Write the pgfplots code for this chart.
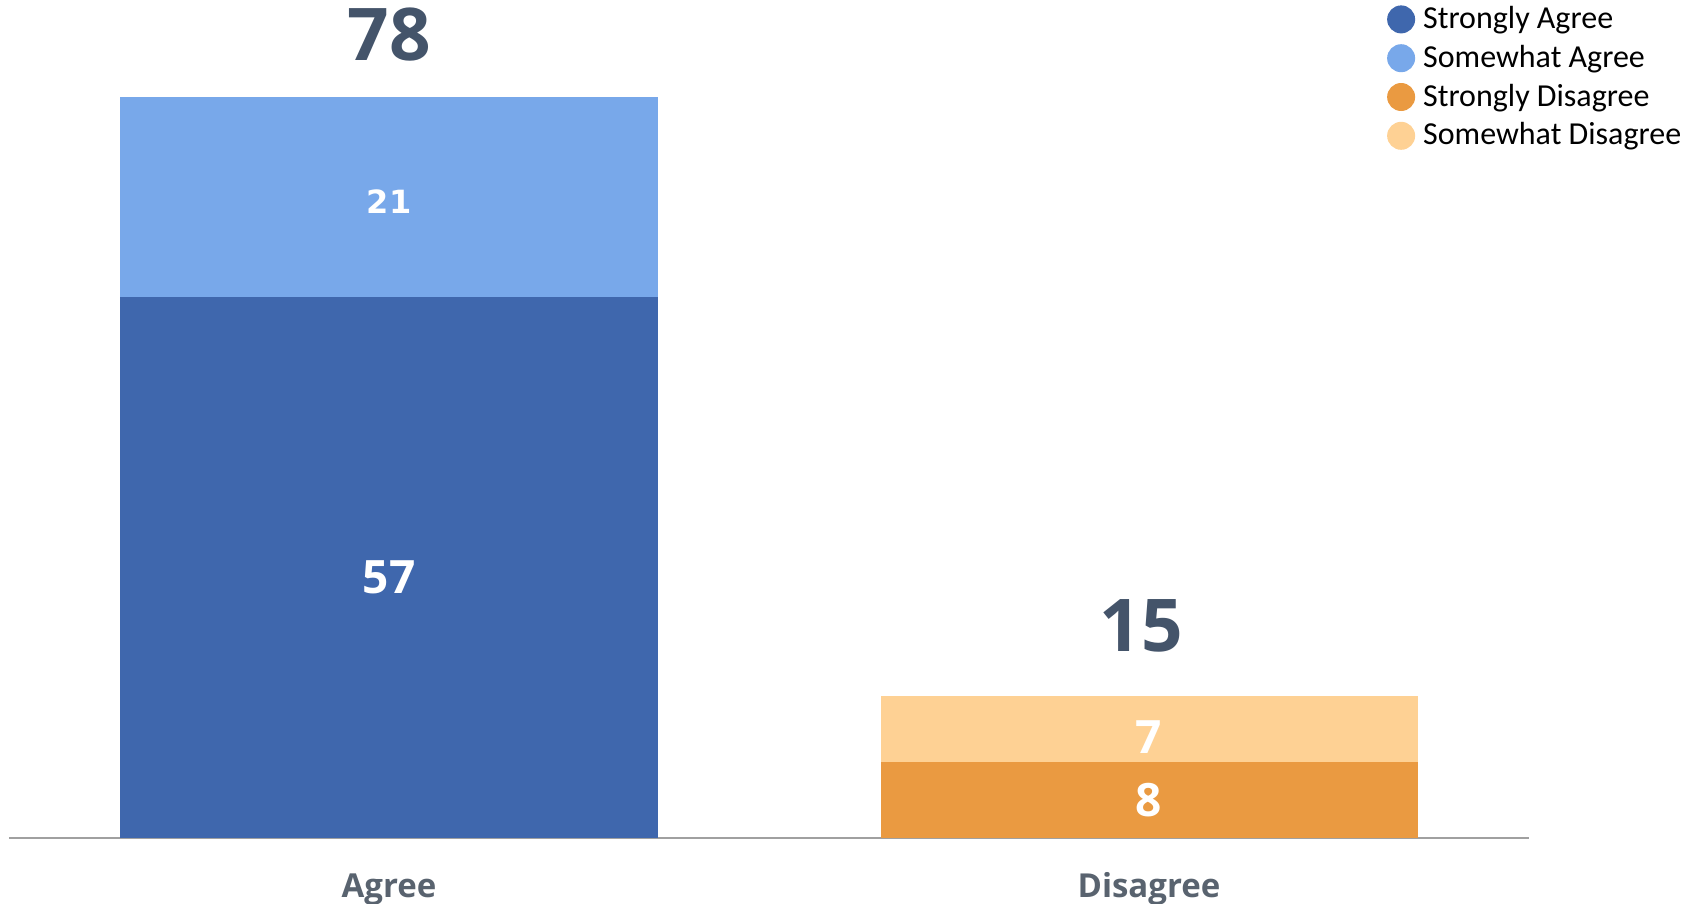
\documentclass[border=0pt]{standalone}
\usepackage{fontspec}
\setmainfont{Carlito}
\newfontfamily\numfont{Open Sans}
\newfontfamily\dvfont{DejaVu Sans}
\usepackage{pgfplots}
\pgfplotsset{compat=1.18}
\definecolor{sAgree}{HTML}{3F67AD}
\definecolor{wAgree}{HTML}{78A8EA}
\definecolor{sDis}{HTML}{EA9A41}
\definecolor{wDis}{HTML}{FED194}
\definecolor{totc}{HTML}{44546A}
\definecolor{catc}{HTML}{59636F}
\definecolor{axgray}{HTML}{A0A0A0}
\pgfplotsset{legcirc/.style={legend image code/.code={\fill[##1,draw=none] (7pt,0pt) circle (7pt); \path (18pt,0pt);}}}
\begin{document}
\begin{tikzpicture}
\path[use as bounding box] (-4.5pt,-33pt) rectangle (844.5pt,419pt);
\begin{axis}[
  at={(0,0)}, anchor=south west,
  scale only axis, width=760pt, height=419pt,
  xmin=-0.5, xmax=1.5, ymin=0, ymax=88.27,
  ybar stacked, bar width=268.5pt,
  axis x line=bottom, axis y line=none,
  x axis line style={draw=axgray, line width=1pt, -},
  xtick={0,1}, xticklabels={Agree,Disagree},
  major tick length=0pt, ytick=\empty,
  xticklabel style={anchor=base, yshift=-30pt, font=\numfont\bfseries\fontsize{16.5}{20}\selectfont, text=catc},
  clip=false,
  legend cell align=left,
  legend style={at={(0.9064,0.9952)}, anchor=north west, draw=none, fill=none,
    font=\fontsize{16}{19}\selectfont, inner sep=0pt, row sep=4.4pt,
    nodes={inner sep=0pt, text height=12pt, text depth=3pt}},
]
\addplot[fill=sAgree, draw=none, legcirc] coordinates {(0,57) (1,0)};
\addplot[fill=wAgree, draw=none, legcirc] coordinates {(0,21) (1,0)};
\addplot[fill=sDis, draw=none, legcirc] coordinates {(0,0) (1,8)};
\addplot[fill=wDis, draw=none, legcirc] coordinates {(0,0) (1,7)};
\legend{Strongly Agree, Somewhat Agree, Strongly Disagree, Somewhat Disagree}
\coordinate (l57) at (axis cs:0,27.49);
\coordinate (l21) at (axis cs:0,66.99);
\coordinate (l8) at (axis cs:1,4.0);
\coordinate (l7) at (axis cs:1,10.59);
\coordinate (l78) at (axis cs:0,84.58);
\coordinate (l15) at (axis cs:0.99,22.38);
\end{axis}
\node[text=white, font=\numfont\bfseries\fontsize{23}{27}\selectfont] at (l57) {57};
\node[text=white, font=\dvfont\bfseries\fontsize{16}{19}\selectfont] at (l21) {21};
\node[text=white, font=\numfont\bfseries\fontsize{23}{27}\selectfont] at (l8) {8};
\node[text=white, font=\numfont\bfseries\fontsize{23}{27}\selectfont] at (l7) {7};
\node[text=totc, font=\numfont\bfseries\fontsize{36.4}{40}\selectfont] at (l78) {78};
\node[text=totc, font=\numfont\bfseries\fontsize{36.4}{40}\selectfont] at (l15) {15};
\end{tikzpicture}
\end{document}
